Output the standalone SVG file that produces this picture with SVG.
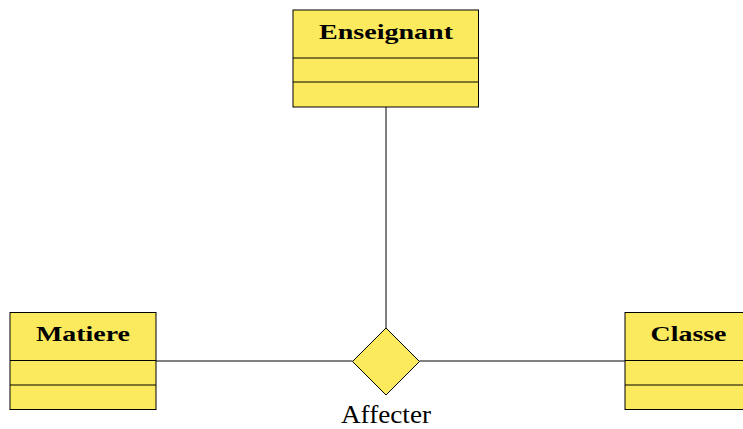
<svg xmlns="http://www.w3.org/2000/svg" width="743" height="429" viewBox="0 0 743 429">
<style>
.box{fill:#fbea5e;stroke:#000;stroke-width:1}
.sep{stroke:#000;stroke-width:1}
.title{font-family:"Liberation Serif","DejaVu Serif",serif;font-weight:bold;font-size:22px;text-anchor:middle;fill:#000}
.lbl{font-family:"Liberation Serif","DejaVu Serif",serif;font-size:25px;text-anchor:middle;fill:#000}
.conn{stroke:#000;stroke-width:1;fill:none}
</style>
<rect width="743" height="429" fill="#fff"/>
<g id="connectors">
<line class="conn" x1="386" y1="107" x2="386" y2="328"/>
<line class="conn" x1="156" y1="361" x2="352.5" y2="361"/>
<line class="conn" x1="419.5" y1="361" x2="625" y2="361"/>
</g>
<g id="Enseignant">
<rect class="box" x="293" y="10" width="185.5" height="97"/>
<line class="sep" x1="293" y1="58" x2="478.5" y2="58"/>
<line class="sep" x1="293" y1="82" x2="478.5" y2="82"/>
<text class="title" x="386" y="39" textLength="134" lengthAdjust="spacingAndGlyphs">Enseignant</text>
</g>
<g id="Matiere">
<rect class="box" x="10" y="312.5" width="146" height="97"/>
<line class="sep" x1="10" y1="360.5" x2="156" y2="360.5"/>
<line class="sep" x1="10" y1="385" x2="156" y2="385"/>
<text class="title" x="83" y="341" textLength="94" lengthAdjust="spacingAndGlyphs">Matiere</text>
</g>
<g id="Classe">
<rect class="box" x="625" y="312.5" width="128" height="97"/>
<line class="sep" x1="625" y1="360.5" x2="753" y2="360.5"/>
<line class="sep" x1="625" y1="385" x2="753" y2="385"/>
<text class="title" x="688.5" y="341" textLength="76" lengthAdjust="spacingAndGlyphs">Classe</text>
</g>
<g id="Affecter">
<polygon class="box" points="386,328 419.5,361.5 386,395 352.5,361.5"/>
<text class="lbl" x="386" y="423" textLength="90" lengthAdjust="spacingAndGlyphs">Affecter</text>
</g>
</svg>
